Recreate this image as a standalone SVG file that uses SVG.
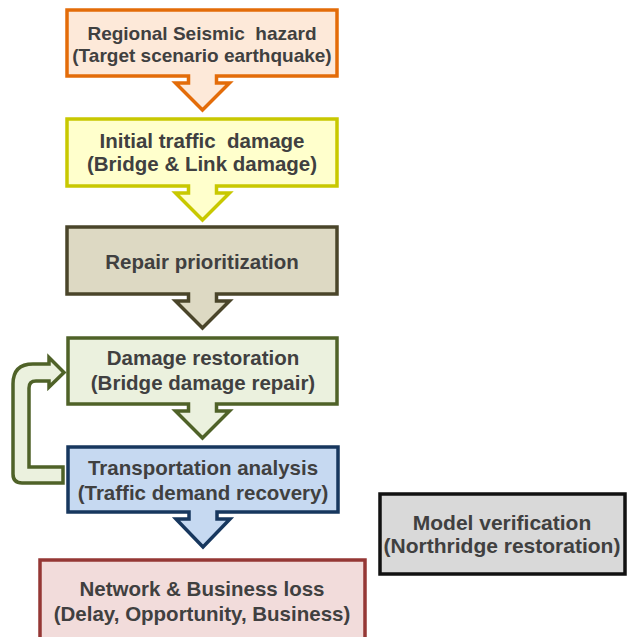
<svg xmlns="http://www.w3.org/2000/svg" width="627" height="637" viewBox="0 0 627 637">
<style>
.sh{stroke-width:3.5;stroke-linejoin:miter}
.t{font-family:"Liberation Sans",Arial,sans-serif;font-weight:bold;fill:#404040;text-anchor:middle;font-size:20.5px}
</style>
<rect width="627" height="637" fill="#ffffff"/>
<g id="connectors">
<path d="M63,483 H22 Q13,483 13,474 V384 Q13,364 33,364 H49 V357.5 L64,372.5 L49,387 V381 H36 Q29,381 29,388 V467 H63 Z" fill="#ebf1de" stroke="#4f6228" stroke-width="3.5" stroke-linejoin="miter"/>
</g>
<g id="n1">
<path class="sh" d="M67,10 H337 V76 H216.5 V83 H229.5 L202.5,110 L175.5,83 H188.5 V76 H67 Z" fill="#fde9d9" stroke="#e36c09"/>
<text class="t" x="202" y="40" style="font-size:19px" xml:space="preserve">Regional Seismic  hazard</text>
<text class="t" x="202" y="62" style="font-size:19px">(Target scenario earthquake)</text>
</g>
<g id="n2">
<path class="sh" d="M67,119 H337 V186 H216.5 V193 H229.5 L202.5,220 L175.5,193 H188.5 V186 H67 Z" fill="#ffffcc" stroke="#c8c800"/>
<text class="t" x="202" y="148" xml:space="preserve">Initial traffic  damage</text>
<text class="t" x="202" y="171">(Bridge &amp; Link damage)</text>
</g>
<g id="n3">
<path class="sh" d="M67,227 H337 V294 H216.5 V301 H229.5 L202.5,328 L175.5,301 H188.5 V294 H67 Z" fill="#ddd9c3" stroke="#4a452a"/>
<text class="t" x="202" y="269">Repair prioritization</text>
</g>
<g id="n4">
<path class="sh" d="M68,338 H337 V404 H216.5 V411 H229.5 L202.5,438 L175.5,411 H188.5 V404 H68 Z" fill="#ebf1de" stroke="#4f6228"/>
<text class="t" x="203" y="365">Damage restoration</text>
<text class="t" x="203" y="390">(Bridge damage repair)</text>
</g>
<g id="n5">
<path class="sh" d="M68,447 H338 V512 H217 V519 H230 L203,547 L176,519 H189 V512 H68 Z" fill="#c6d9f1" stroke="#17375e"/>
<text class="t" x="203" y="475">Transportation analysis</text>
<text class="t" x="203" y="500">(Traffic demand recovery)</text>
</g>
<g id="n6">
<rect class="sh" x="40" y="560" width="325" height="95" fill="#f2dcdb" stroke="#953735"/>
<text class="t" x="202" y="596">Network &amp; Business loss</text>
<text class="t" x="202" y="621">(Delay, Opportunity, Business)</text>
</g>
<g id="n7">
<rect class="sh" x="380" y="494" width="245" height="80" fill="#d9d9d9" stroke="#111111"/>
<text class="t" x="502" y="530" style="font-size:21px">Model verification</text>
<text class="t" x="502" y="553" style="font-size:21px">(Northridge restoration)</text>
</g>
</svg>
